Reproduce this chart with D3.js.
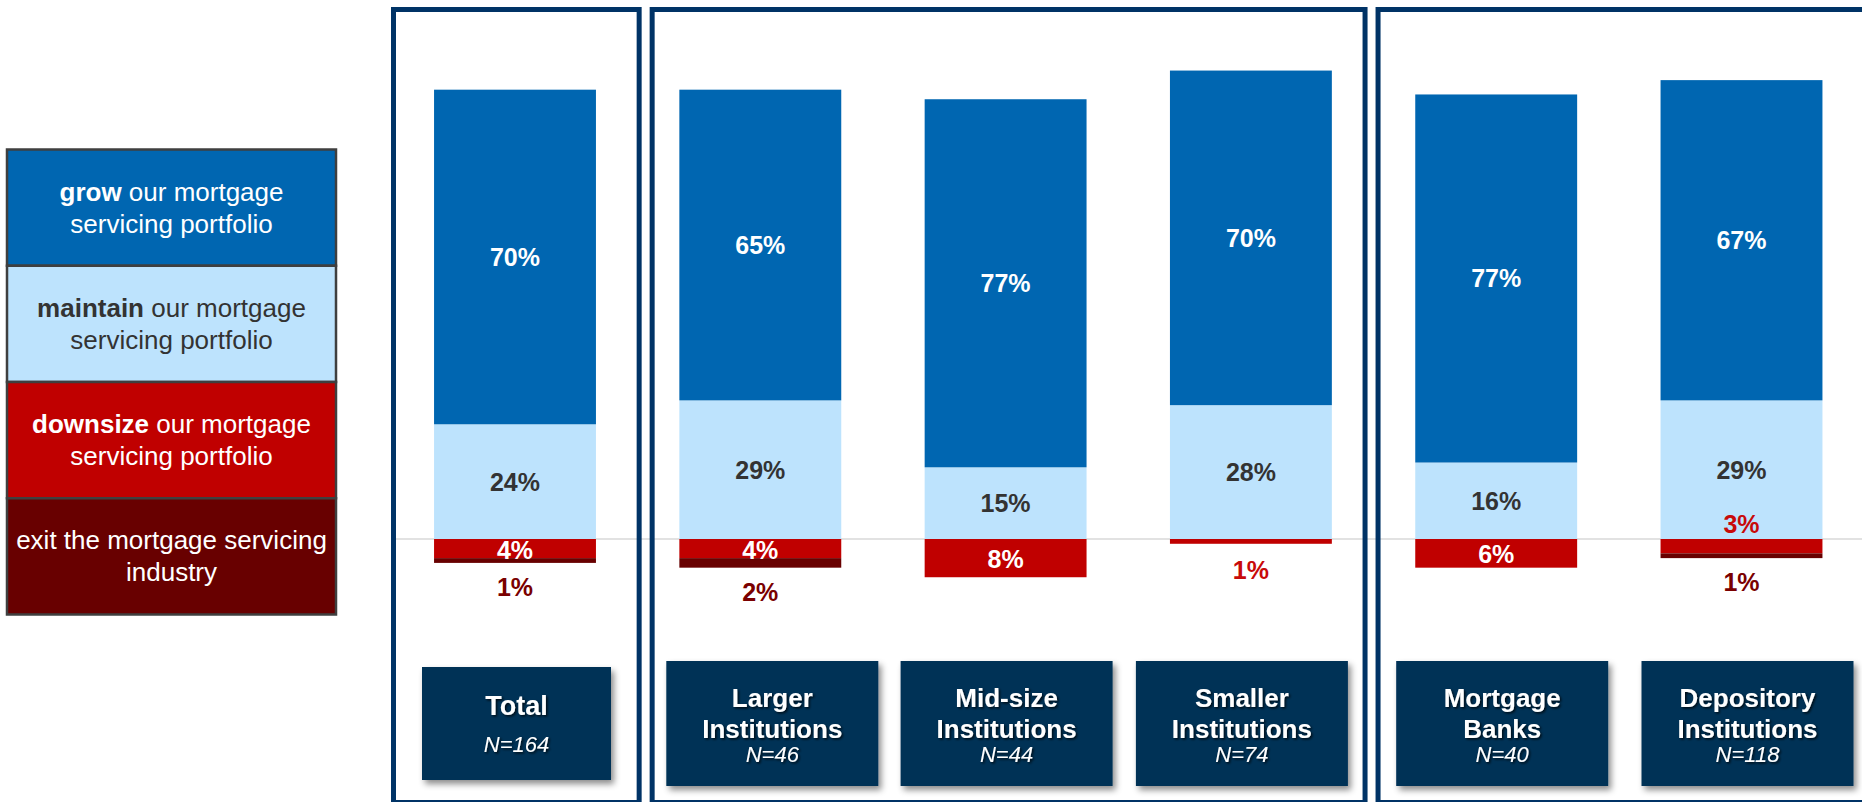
<!DOCTYPE html>
<html>
<head>
<meta charset="utf-8">
<script src="https://cdn.jsdelivr.net/npm/d3@7"></script>
<style>
  html, body { margin: 0; padding: 0; background: #fff; }
  svg { display: block; font-family: "Liberation Sans", Arial, sans-serif; }
</style>
</head>
<body>
<svg id="chart" width="1862" height="802"></svg>
<script>
// Survey: plans for the mortgage servicing portfolio, by institution segment
const categories = ["Total", "Larger Institutions", "Mid-size Institutions", "Smaller Institutions", "Mortgage Banks", "Depository Institutions"];
const categoryLines = [["Total"], ["Larger", "Institutions"], ["Mid-size", "Institutions"], ["Smaller", "Institutions"], ["Mortgage", "Banks"], ["Depository", "Institutions"]];
const sampleSizes = [164, 46, 44, 74, 40, 118];

const grow      = [70, 65, 77, 70, 77, 67];
const maintain  = [24, 29, 15, 28, 16, 29];
const downsize  = [4, 4, 8, 1, 6, 3];
const exitIndustry = [1, 2, 0, 0, 0, 1];

// Panels group the segments: overall, by size, by type
const panelGroups = [[0, 0], [1, 3], [4, 5]];

const legendItems = [
  { bold: "grow", rest: " our mortgage", line2: "servicing portfolio" },
  { bold: "maintain", rest: " our mortgage", line2: "servicing portfolio" },
  { bold: "downsize", rest: " our mortgage", line2: "servicing portfolio" },
  { bold: "", rest: "exit the mortgage servicing", line2: "industry" }
];

const colors = {
  grow: "#0066B1",
  maintain: "#BDE3FD",
  downsize: "#C00000",
  exit: "#680000",
  navyFrame: "#003366",
  navyBox: "#003257",
  darkText: "#333333",
  exitText: "#7A0000",
  downText: "#C80A0A",
  zeroLine: "#D9D9D9"
};

const svg = d3.select("#chart");
const W = 1862, H = 802;

const defs = svg.append("defs");
const boxShadow = defs.append("filter").attr("id", "boxShadow")
  .attr("x", "-10%").attr("y", "-10%").attr("width", "125%").attr("height", "130%");
boxShadow.append("feDropShadow").attr("dx", 3).attr("dy", 4).attr("stdDeviation", 3)
  .attr("flood-color", "#000").attr("flood-opacity", 0.45);
const textShadow = defs.append("filter").attr("id", "textShadow")
  .attr("x", "-10%").attr("y", "-20%").attr("width", "130%").attr("height", "150%");
textShadow.append("feDropShadow").attr("dx", 1.5).attr("dy", 1.5).attr("stdDeviation", 0.8)
  .attr("flood-color", "#000").attr("flood-opacity", 0.75);

// Scales
const x = d3.scaleBand().domain(categories)
  .range([392.35, 1864.15]).paddingInner(0.34).paddingOuter(0.17);
const y = d3.scaleLinear().domain([0, 100]).range([539, 61]);
const xc = c => x(c) + x.bandwidth() / 2;

// Zero line across the plot area
svg.append("line")
  .attr("x1", 396).attr("x2", W)
  .attr("y1", y(0)).attr("y2", y(0))
  .attr("stroke", colors.zeroLine).attr("stroke-width", 1.5);

// Stacked bars: positive stack above zero, negative stack below
const rows = categories.map((c, i) => ({
  cat: c, grow: grow[i], maintain: maintain[i], downsize: downsize[i], exit: exitIndustry[i]
}));

const segs = [];
rows.forEach(r => {
  segs.push({ cat: r.cat, key: "maintain", y0: 0, y1: r.maintain, v: r.maintain });
  segs.push({ cat: r.cat, key: "grow", y0: r.maintain, y1: r.maintain + r.grow, v: r.grow });
  segs.push({ cat: r.cat, key: "downsize", y0: -r.downsize, y1: 0, v: r.downsize });
  segs.push({ cat: r.cat, key: "exit", y0: -(r.downsize + r.exit), y1: -r.downsize, v: r.exit });
});

const barLayer = svg.append("g");
barLayer.selectAll("rect").data(segs.filter(s => s.v > 0)).join("rect")
  .attr("x", d => x(d.cat))
  .attr("width", x.bandwidth())
  .attr("y", d => y(d.y1))
  .attr("height", d => y(d.y0) - y(d.y1))
  .attr("fill", d => colors[d.key]);

// Value labels
const labelSize = 25;
const labels = [];
rows.forEach(r => {
  const cx = xc(r.cat);
  labels.push({ x: cx, cy: (y(r.maintain) + y(r.maintain + r.grow)) / 2, text: r.grow + "%", fill: "#fff" });
  labels.push({ x: cx, cy: (y(0) + y(r.maintain)) / 2, text: r.maintain + "%", fill: colors.darkText });
  const bottom = y(-(r.downsize + r.exit));
  if (r.downsize >= 4) {
    labels.push({ x: cx, cy: (y(0) + y(-r.downsize)) / 2 + 1, text: r.downsize + "%", fill: "#fff" });
  } else if (r.exit > 0) {
    labels.push({ x: cx, cy: y(0) - 15, text: r.downsize + "%", fill: colors.downText });
  } else {
    labels.push({ x: cx, cy: bottom + 26, text: r.downsize + "%", fill: colors.downText });
  }
  if (r.exit > 0) {
    labels.push({ x: cx, cy: bottom + 24, text: r.exit + "%", fill: colors.exitText });
  }
});

svg.append("g").selectAll("text").data(labels).join("text")
  .attr("x", d => d.x)
  .attr("y", d => d.cy + labelSize * 0.36)
  .attr("text-anchor", "middle")
  .attr("font-size", labelSize)
  .attr("font-weight", "bold")
  .attr("fill", d => d.fill)
  .text(d => d.text);

// Panel frames
const dividerNudge = [8, -2];
const dividers = panelGroups.slice(0, -1).map((g, i) => {
  const a = xc(categories[g[1]]), b = xc(categories[panelGroups[i + 1][0]]);
  return (a + b) / 2 + dividerNudge[i];
});
const panelEdges = panelGroups.map((g, i) => {
  const left = i === 0 ? xc(categories[g[0]]) - 124 : dividers[i - 1] + 4;
  const right = i === panelGroups.length - 1 ? W + 10 : dividers[i] - 4;
  return [left, right];
});
svg.append("g").selectAll("rect").data(panelEdges).join("rect")
  .attr("x", d => d[0] + 2.5)
  .attr("y", 9.5)
  .attr("width", d => d[1] - d[0] - 5)
  .attr("height", 793)
  .attr("fill", "none")
  .attr("stroke", colors.navyFrame)
  .attr("stroke-width", 5);

// Category boxes below the bars (slightly offset from bar centres)
const boxCenterY = 723.5;
const boxNudge = [1.5, 12, 1, -9, 6, 6];
const boxes = svg.append("g").selectAll("g").data(categories).join("g");
boxes.each(function (c, i) {
  const g = d3.select(this);
  const lines = categoryLines[i];
  const single = lines.length === 1;
  const bw = single ? 189 : 212, bh = single ? 113 : 125;
  const cx = xc(c) + boxNudge[i];
  g.append("rect")
    .attr("x", cx - bw / 2).attr("y", boxCenterY - bh / 2)
    .attr("width", bw).attr("height", bh)
    .attr("fill", colors.navyBox)
    .attr("filter", "url(#boxShadow)");
  const t = g.append("g").attr("filter", "url(#textShadow)").attr("fill", "#fff").attr("text-anchor", "middle");
  const titleBase = single ? [boxCenterY - 8.5] : [boxCenterY - 17, boxCenterY + 14.5];
  lines.forEach((ln, k) => {
    t.append("text").attr("x", cx).attr("y", titleBase[k])
      .attr("font-size", single ? 27 : 26).attr("font-weight", "bold").text(ln);
  });
  t.append("text").attr("x", cx).attr("y", single ? boxCenterY + 28.5 : boxCenterY + 38.5)
    .attr("font-size", 22).attr("font-style", "italic").text("N=" + sampleSizes[i]);
});

// Legend
const legend = { x: 7, y: 149.5, w: 329, rowH: 116.25 };
const legendKeys = ["grow", "maintain", "downsize", "exit"];
const lg = svg.append("g");
legendItems.forEach((item, i) => {
  const top = legend.y + i * legend.rowH;
  lg.append("rect")
    .attr("x", legend.x).attr("y", top)
    .attr("width", legend.w).attr("height", legend.rowH)
    .attr("fill", colors[legendKeys[i]])
    .attr("stroke", "#3F3F3F").attr("stroke-width", 2.5);
  const fill = legendKeys[i] === "maintain" ? colors.darkText : "#fff";
  const cy = top + legend.rowH / 2;
  const cx = legend.x + legend.w / 2;
  const t1 = lg.append("text").attr("x", cx).attr("y", cy - 7)
    .attr("text-anchor", "middle").attr("font-size", 26).attr("fill", fill);
  if (item.bold) t1.append("tspan").attr("font-weight", "bold").text(item.bold);
  t1.append("tspan").text(item.rest);
  lg.append("text").attr("x", cx).attr("y", cy + 25)
    .attr("text-anchor", "middle").attr("font-size", 26).attr("fill", fill)
    .text(item.line2);
});
</script>
</body>
</html>
